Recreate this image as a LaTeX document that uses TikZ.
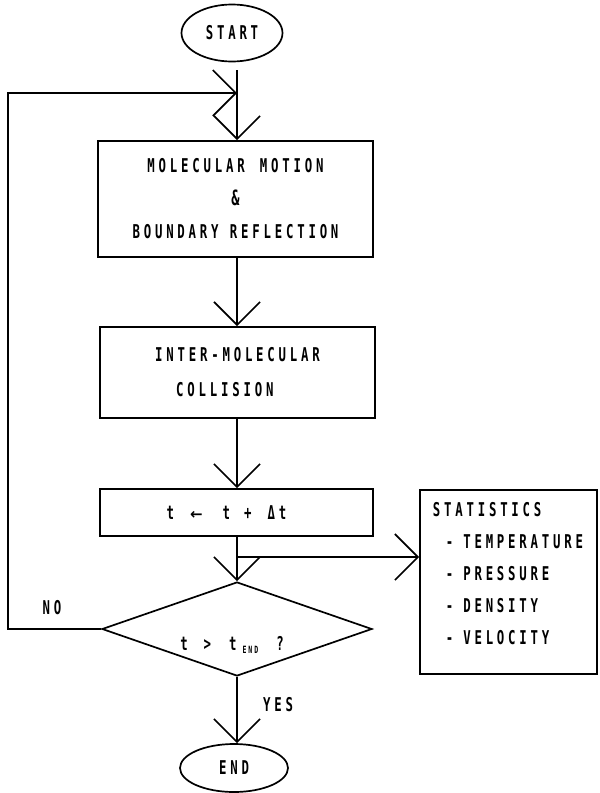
\documentclass[tikz,border=0pt]{standalone}
\usepackage{fontspec}
\newfontfamily\plotfont[FakeStretch=0.65,LetterSpace=20]{DejaVu Sans Mono Bold}
\newfontfamily\symfont{DejaVu Sans Bold}
\usetikzlibrary{arrows.meta,shapes.geometric,calc}
\begin{document}
\begin{tikzpicture}[x=1pt,y=-1pt,line width=1.7pt,
  every node/.style={font=\plotfont\fontsize{19}{19}\selectfont, inner sep=0pt},
  term/.style={ellipse, draw},
  procbox/.style={rectangle, draw},
  decbox/.style={diamond, draw},
  flow/.style={-{Straight Barb[length=23pt,width=46pt,line width=1.7pt]}},
  lbl/.style={font=\plotfont\fontsize{19}{19}\selectfont}]
\useasboundingbox (0,0) rectangle (600,793);
% nodes
\node[term, minimum width=101pt, minimum height=57pt] (start) at (232,33) {START};
\node[procbox, minimum width=275pt, minimum height=116pt, align=center,
      font=\plotfont\fontsize{19}{33}\selectfont] (box1) at (235.5,199)
      {MOLECULAR\hspace{4pt} MOTION\\{\fontsize{21}{21}\selectfont\&}\\BOUNDARY REFLECTION};
\node[procbox, minimum width=275pt, minimum height=91pt, align=left,
      font=\plotfont\fontsize{19}{35}\selectfont] (box2) at (237.5,372.5)
      {INTER-MOLECULAR\\\hspace*{21pt}COLLISION\hspace*{12pt}};
\node[procbox, minimum width=273pt, minimum height=47pt] (box3) at (236.5,512.5)
      {t\hspace{16pt}{\symfont\fontsize{15}{15}\selectfont ←}\hspace{20pt}t\hspace{14pt}+\hspace{16pt}Δt\hspace*{20pt}};
\node[decbox, minimum width=270pt, minimum height=94pt] (dec) at (237,629) {};
\node[lbl] (dectext) at (232,645)
  {t\hspace{16pt}>\hspace{18pt}t\hspace{6pt}\raisebox{-3pt}{\fontsize{10}{10}\selectfont END}\hspace{18pt}?};
\node[procbox, minimum width=177pt, minimum height=184pt] (stats) at (508.5,582) {};
\node[lbl, anchor=north west, align=left, font=\plotfont\fontsize{19}{32}\selectfont] (stattext) at (432,502)
  {STATISTICS\\
   \hspace*{13pt}-\hspace*{10pt}TEMPERATURE\\
   \hspace*{13pt}-\hspace*{10pt}PRESSURE\\
   \hspace*{13pt}-\hspace*{10pt}DENSITY\\
   \hspace*{13pt}-\hspace*{10pt}VELOCITY};
\node[term, minimum width=108pt, minimum height=48pt] (end) at (234,768) {END};
\node[lbl] (no) at (52,608) {NO};
\node[lbl] (yes) at (278,705) {YES};
% coordinates
\coordinate (j) at (237,93);
\coordinate (lb) at (8,629);
\coordinate (lt) at (8,93);
\coordinate (br) at (237,557);
% connectors
\draw[flow] ($(start.south -| j)+(0,8)$) -- (j |- box1.north);
\draw[flow] (dec.west) -- (lb) -- (lt) -- (j);
\draw[flow] (j |- box1.south) -- (j |- box2.north);
\draw[flow] (j |- box2.south) -- (j |- box3.north);
\draw[flow] (j |- box3.south) -- (dec.north);
\draw[flow] (br) -- (br -| stats.west);
\draw[flow] (dec.south) -- (dec.south |- end.north);
\end{tikzpicture}
\end{document}
